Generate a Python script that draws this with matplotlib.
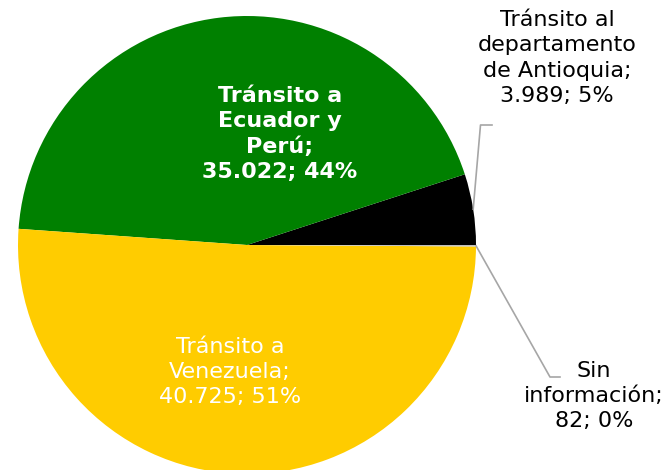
import numpy as np
import matplotlib
matplotlib.use("Agg")
from matplotlib import pyplot as plt

# Data (counterclockwise from 3 o'clock)
names = ["Tránsito al\ndepartamento\nde Antioquia", "Tránsito a\nEcuador y\nPerú",
         "Tránsito a\nVenezuela", "Sin\ninformación"]
values = [3989, 35022, 40725, 82]
colors = ["#000000", "#008000", "#FFCC00", "#BFBFBF"]

total = sum(values)
def fmt(v):
    return "{:,}".format(v).replace(",", ".")
labels = [n + ";\n" + fmt(v) + "; " + str(int(round(v * 100.0 / total))) + "%"
          for n, v in zip(names, values)]

H = 470
fig = plt.figure(figsize=(6.63, 4.70), dpi=100)
ax = fig.add_axes([0, 0, 1, 1])

cx, cy, r = 247, H - 245, 229
wedges, _ = ax.pie(values, colors=colors, startangle=0, counterclock=True,
                   center=(cx, cy), radius=r, frame=True,
                   wedgeprops=dict(linewidth=0))
ax.set_xlim(0, 663)
ax.set_ylim(0, H)
ax.set_aspect("equal")
ax.axis("off")

fs = 16
ls = 1.32
# inside labels
ax.text(280, H - 134, labels[1], color="white", fontsize=fs, fontweight="bold",
        ha="center", va="center", linespacing=ls)
ax.text(230, H - 372, labels[2], color="white", fontsize=fs,
        ha="center", va="center", linespacing=ls)
# outside labels
ax.text(557, H - 58, labels[0], color="black", fontsize=fs,
        ha="center", va="center", linespacing=ls)
ax.text(594, H - 396, labels[3], color="black", fontsize=fs,
        ha="center", va="center", linespacing=ls)

# leader lines from slice mid angle
def anchor(w):
    a = np.deg2rad((w.theta1 + w.theta2) / 2.0)
    return cx + r * np.cos(a), cy + r * np.sin(a)

x0, y0 = anchor(wedges[0])
ax.plot([x0, 480.5, 492], [y0, H - 125, H - 125], color="#A6A6A6", lw=1.2)
x3, y3 = anchor(wedges[3])
ax.plot([x3, 550, 560], [y3, H - 377, H - 377], color="#A6A6A6", lw=1.2)

fig.savefig("out.png", dpi=100)
